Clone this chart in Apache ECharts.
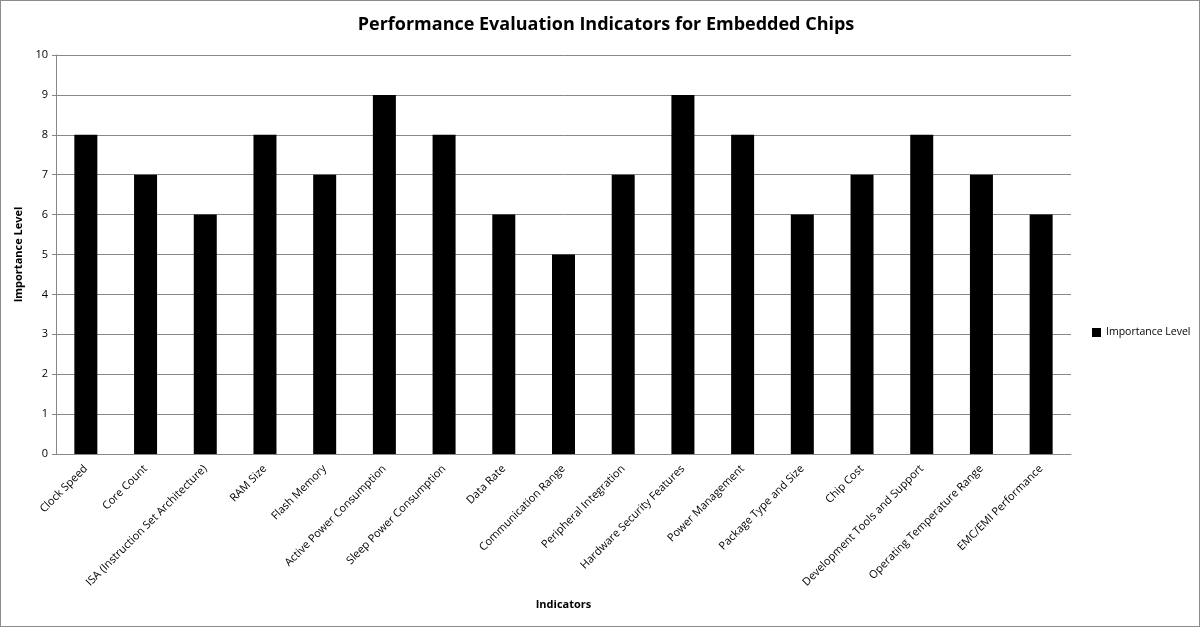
<!DOCTYPE html>
<html><head><meta charset="utf-8">
<script src="https://cdn.jsdelivr.net/npm/echarts@6/dist/echarts.min.js"></script>
<style>html,body{margin:0;padding:0;background:#fff}#c{width:1200px;height:627px;box-sizing:border-box;border:1px solid #8c8c8c}</style>
</head><body><div id="c"></div>
<script>
const categories = ["Clock Speed","Core Count","ISA (Instruction Set Architecture)","RAM Size","Flash Memory","Active Power Consumption","Sleep Power Consumption","Data Rate","Communication Range","Peripheral Integration","Hardware Security Features","Power Management","Package Type and Size","Chip Cost","Development Tools and Support","Operating Temperature Range","EMC/EMI Performance"];
const importance = [8,7,6,8,7,9,8,6,5,7,9,8,6,7,8,7,6];
const seriesName = "Importance Level";
const chart = echarts.init(document.getElementById('c'));
const font = "'Open Sans', 'Liberation Sans', sans-serif";
chart.setOption({
  animation:false,
  title:{text:"Performance Evaluation Indicators for Embedded Chips",left:600,top:10,textAlign:'center',
    textStyle:{fontFamily:font,fontSize:18,fontWeight:'bold',color:'#000'}},
  legend:{data:[seriesName],orient:'vertical',left:1086,top:321,itemWidth:9,itemHeight:9,itemGap:4,
    textStyle:{fontFamily:font,fontSize:10.5,color:'#000'},icon:'rect'},
  grid:{left:55,right:128,top:54,bottom:172,containLabel:false},
  xAxis:{type:'category',data:categories,name:'Indicators',nameLocation:'middle',nameGap:145,
    nameTextStyle:{fontFamily:font,fontSize:11,fontWeight:'bold',color:'#000'},
    axisLine:{lineStyle:{color:'#888'}},axisTick:{length:5,lineStyle:{color:'#888'}},
    axisLabel:{rotate:45,interval:0,fontFamily:font,fontSize:11,color:'#000',margin:13}},
  yAxis:{type:'value',min:0,max:10,interval:1,name:'Importance Level',nameLocation:'middle',nameGap:28,
    nameTextStyle:{fontFamily:font,fontSize:11,fontWeight:'bold',color:'#000'},
    axisLine:{show:true,lineStyle:{color:'#888'}},axisTick:{show:true,length:4,lineStyle:{color:'#888'}},
    axisLabel:{fontFamily:font,fontSize:11,color:'#000',margin:8},
    splitLine:{lineStyle:{color:'#888'}}},
  series:[{name:seriesName,type:'bar',data:importance,barWidth:23,itemStyle:{color:'#000'}}]
});
</script></body></html>
